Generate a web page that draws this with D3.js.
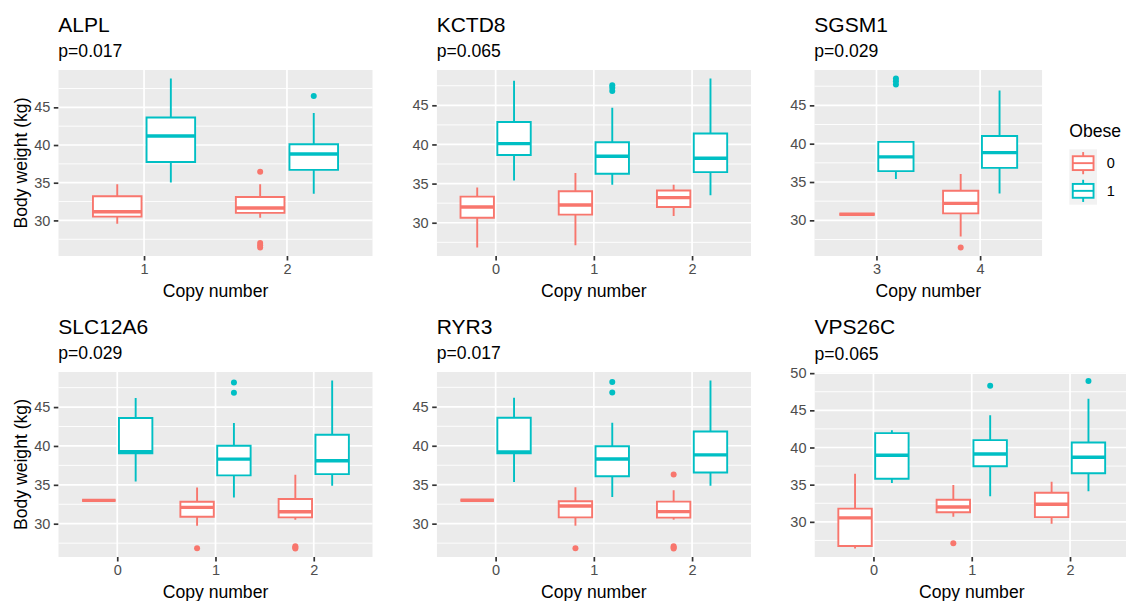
<!DOCTYPE html>
<html>
<head>
<meta charset="utf-8">
<script src="https://cdn.jsdelivr.net/npm/d3@7"></script>
<style>
  html, body { margin: 0; padding: 0; background: #fff; }
  svg { display: block; }
</style>
</head>
<body>
<script>
// ---------------- DATA ----------------
const genes = ["ALPL", "KCTD8", "SGSM1", "SLC12A6", "RYR3", "VPS26C"];
const pValues = ["p=0.017", "p=0.065", "p=0.029", "p=0.029", "p=0.017", "p=0.065"];
const copyNumbers = [["1", "2"], ["0", "1", "2"], ["3", "4"], ["0", "1", "2"], ["0", "1", "2"], ["0", "1", "2"]];
const obeseLevels = ["0", "1"];
const yTickValues = [30, 35, 40, 45, 50];
const yTickLabels = ["30", "35", "40", "45", "50"];

// rows: [copy number, obese, lower whisker, q1, median, q3, upper whisker, outliers]
const alplStats = [
  ["1", "0", 29.55, 30.5, 31.15, 33.2, 34.8, []],
  ["1", "1", 35.03, 37.75, 41.2, 43.66, 48.83, []],
  ["2", "0", 30.35, 31.0, 31.65, 33.1, 34.8, [36.45, 27.0, 26.7, 26.4]],
  ["2", "1", 33.55, 36.7, 38.8, 40.1, 44.25, [46.5]]
];
const kctd8Stats = [
  ["0", "0", 26.83, 30.64, 32.0, 33.34, 34.5, []],
  ["0", "1", 35.4, 38.66, 40.11, 42.86, 48.13, []],
  ["1", "0", 27.13, 31.03, 32.27, 34.03, 36.34, []],
  ["1", "1", 34.84, 36.26, 38.49, 40.29, 44.7, [47.57, 47.23, 46.84]],
  ["2", "0", 30.86, 32.01, 33.21, 34.11, 34.84, []],
  ["2", "1", 33.51, 36.47, 38.23, 41.4, 48.43, []]
];
const sgsm1Stats = [
  ["3", "0", 30.8, 30.8, 30.8, 30.8, 30.8, []],
  ["3", "1", 35.38, 36.42, 38.28, 40.23, 40.23, [48.51, 48.16, 47.73]],
  ["4", "0", 27.88, 30.91, 32.21, 33.86, 36.03, [26.45]],
  ["4", "1", 33.51, 36.85, 38.84, 41.01, 46.95, []]
];
const slc12a6Stats = [
  ["0", "0", 33.0, 33.0, 33.0, 33.0, 33.0, []],
  ["0", "1", 35.44, 39.04, 39.26, 43.59, 46.16, []],
  ["1", "0", 29.74, 30.9, 32.1, 32.83, 34.67, [26.83]],
  ["1", "1", 33.38, 36.21, 38.31, 40.03, 42.94, [48.17, 46.84]],
  ["2", "0", 30.51, 30.81, 31.54, 33.17, 36.3, [27.1, 26.95, 26.8]],
  ["2", "1", 34.88, 36.38, 38.1, 41.44, 48.43, []]
];
const ryr3Stats = [
  ["0", "0", 33.0, 33.0, 33.0, 33.0, 33.0, []],
  ["0", "1", 35.36, 39.04, 39.2, 43.59, 46.16, []],
  ["1", "0", 29.74, 30.81, 32.27, 32.87, 34.67, [26.83]],
  ["1", "1", 33.43, 36.08, 38.31, 39.94, 42.94, [48.17, 46.84]],
  ["2", "0", 30.51, 30.77, 31.54, 32.83, 34.28, [36.3, 27.1, 26.95, 26.8]],
  ["2", "1", 34.88, 36.56, 38.83, 41.83, 48.39, []]
];
const vps26cStats = [
  ["0", "0", 26.4, 26.75, 30.54, 31.78, 36.46, []],
  ["0", "1", 35.21, 35.79, 38.95, 41.93, 42.33, []],
  ["1", "0", 30.67, 31.29, 32.0, 32.98, 34.94, [27.11]],
  ["1", "1", 33.43, 37.48, 39.13, 40.99, 44.33, [48.29]],
  ["2", "0", 29.74, 30.63, 32.36, 33.92, 35.39, []],
  ["2", "1", 34.1, 36.54, 38.68, 40.68, 46.56, [48.96]]
];
const panelStats = [alplStats, kctd8Stats, sgsm1Stats, slc12a6Stats, ryr3Stats, vps26cStats];

// ---------------- LAYOUT / STYLE ----------------
const layout = [
  { x0: 58.3, x1: 372.7, y0: 70, y1: 256, yTitle: true },
  { x0: 436.7, x1: 751, y0: 70, y1: 256, yTitle: false },
  { x0: 814.3, x1: 1042.3, y0: 70, y1: 256, yTitle: false },
  { x0: 58.3, x1: 372.7, y0: 372, y1: 557, yTitle: true },
  { x0: 436.7, x1: 751, y0: 372, y1: 557, yTitle: false },
  { x0: 814.5, x1: 1129, y0: 372.5, y1: 557, yTitle: false }
];
const colors = { "0": "#F8766D", "1": "#00BFC4" };
const FONT = "'Liberation Sans', Arial, Helvetica, sans-serif";
const BOX_W = 1.9, MED_W = 3.4;

const svg = d3.select("body").append("svg")
  .attr("width", 1126).attr("height", 601)
  .style("font-family", FONT);
svg.append("rect").attr("width", 1126).attr("height", 601).attr("fill", "#fff");

function drawBox(g, cx, hw, y, r, color) {
  const [cn, ob, lw, q1, med, q3, uw, outs] = r;
  g.append("line").attr("x1", cx).attr("x2", cx).attr("y1", y(uw)).attr("y2", y(q3))
    .attr("stroke", color).attr("stroke-width", BOX_W);
  g.append("line").attr("x1", cx).attr("x2", cx).attr("y1", y(q1)).attr("y2", y(lw))
    .attr("stroke", color).attr("stroke-width", BOX_W);
  g.append("path")
    .attr("d", `M${cx - hw},${y(q3)}H${cx + hw}V${y(q1)}H${cx - hw}Z`)
    .attr("fill", "#fff").attr("stroke", color).attr("stroke-width", BOX_W);
  g.append("line").attr("x1", cx - hw).attr("x2", cx + hw).attr("y1", y(med)).attr("y2", y(med))
    .attr("stroke", color).attr("stroke-width", MED_W);
  outs.forEach(o => {
    g.append("circle").attr("cx", cx).attr("cy", y(o)).attr("r", 3).attr("fill", color);
  });
}

genes.forEach((gene, i) => {
  const L = layout[i];
  const stats = panelStats[i];
  const cats = copyNumbers[i];
  const x = d3.scalePoint().domain(cats).range([L.x0, L.x1]).padding(0.6);
  const step = x.step();
  const all = stats.flatMap(r => [r[2], r[6], ...r[7]]);
  const lo = d3.min(all), hi = d3.max(all), pad = (hi - lo) * 0.05;
  const y = d3.scaleLinear().domain([lo - pad, hi + pad]).range([L.y1, L.y0]);
  const [dmin, dmax] = y.domain();

  const clipId = "clip" + i;
  svg.append("clipPath").attr("id", clipId).append("rect")
    .attr("x", L.x0).attr("y", L.y0).attr("width", L.x1 - L.x0).attr("height", L.y1 - L.y0);

  const g = svg.append("g");
  const pg = g.append("g").attr("clip-path", `url(#${clipId})`);
  pg.append("rect").attr("x", L.x0).attr("y", L.y0).attr("width", L.x1 - L.x0).attr("height", L.y1 - L.y0)
    .attr("fill", "#EBEBEB");

  const minor = d3.range(22.5, 55, 5).filter(v => v > dmin && v < dmax);
  pg.selectAll(".minor").data(minor).join("line")
    .attr("x1", L.x0).attr("x2", L.x1).attr("y1", d => y(d)).attr("y2", d => y(d))
    .attr("stroke", "#fff").attr("stroke-width", 0.9);
  const ticks = yTickValues.filter(v => v >= dmin && v <= dmax);
  pg.selectAll(".major").data(ticks).join("line")
    .attr("x1", L.x0).attr("x2", L.x1).attr("y1", d => y(d)).attr("y2", d => y(d))
    .attr("stroke", "#fff").attr("stroke-width", 1.7);
  pg.selectAll(".vmajor").data(cats).join("line")
    .attr("x1", d => x(d)).attr("x2", d => x(d)).attr("y1", L.y0).attr("y2", L.y1)
    .attr("stroke", "#fff").attr("stroke-width", 1.7);

  const dodge = 0.1875 * step, hw = 0.17 * step;
  stats.forEach(r => {
    const cx = x(r[0]) + (r[1] === "0" ? -dodge : dodge);
    drawBox(pg, cx, hw, y, r, colors[r[1]]);
  });

  const yAxis = d3.axisLeft(y).tickValues(ticks)
    .tickFormat(v => yTickLabels[yTickValues.indexOf(v)])
    .tickSize(4.5).tickPadding(3.5);
  const ya = g.append("g").attr("transform", `translate(${L.x0},0)`).call(yAxis);
  ya.select(".domain").remove();
  ya.selectAll(".tick line").attr("stroke", "#333").attr("stroke-width", 1.7);
  ya.selectAll(".tick text").attr("fill", "#4D4D4D").style("font-size", "14.5px").style("font-family", FONT);

  const xAxis = d3.axisBottom(x).tickSize(4.5).tickPadding(3);
  const xa = g.append("g").attr("transform", `translate(0,${L.y1})`).call(xAxis);
  xa.select(".domain").remove();
  xa.selectAll(".tick line").attr("stroke", "#333").attr("stroke-width", 1.7);
  xa.selectAll(".tick text").attr("fill", "#4D4D4D").style("font-size", "14.5px").style("font-family", FONT);

  g.append("text").attr("x", L.x0).attr("y", L.y0 - 38.3).text(gene)
    .attr("fill", "#000").style("font-size", "21px");
  g.append("text").attr("x", L.x0).attr("y", L.y0 - 12.7).text(pValues[i])
    .attr("fill", "#000").style("font-size", "17.6px");
  g.append("text").attr("x", (L.x0 + L.x1) / 2).attr("y", L.y1 + 40.5)
    .attr("text-anchor", "middle").text("Copy number")
    .attr("fill", "#000").style("font-size", "17.6px");
  if (L.yTitle) {
    g.append("text")
      .attr("transform", `translate(26.5,${(L.y0 + L.y1) / 2}) rotate(-90)`)
      .attr("text-anchor", "middle").text("Body weight (kg)")
      .attr("fill", "#000").style("font-size", "17.6px");
  }
});

// legend
const lg = svg.append("g");
lg.append("text").attr("x", 1069.3).attr("y", 137.3).text("Obese")
  .attr("fill", "#000").style("font-size", "17.6px");
const keySize = 27.7, keyX = 1069.3, keyY = 149.3;
obeseLevels.forEach((lev, k) => {
  const ky = keyY + k * keySize;
  lg.append("rect").attr("x", keyX).attr("y", ky).attr("width", keySize).attr("height", keySize)
    .attr("fill", "#F2F2F2");
  const ks = d3.scaleLinear().domain([0, 1]).range([ky + keySize, ky]);
  const cx = keyX + keySize / 2;
  const color = colors[lev];
  lg.append("line").attr("x1", cx).attr("x2", cx).attr("y1", ks(0.9)).attr("y2", ks(0.75))
    .attr("stroke", color).attr("stroke-width", BOX_W);
  lg.append("line").attr("x1", cx).attr("x2", cx).attr("y1", ks(0.25)).attr("y2", ks(0.1))
    .attr("stroke", color).attr("stroke-width", BOX_W);
  lg.append("rect").attr("x", keyX + keySize * 0.125).attr("y", ks(0.75))
    .attr("width", keySize * 0.75).attr("height", ks(0.25) - ks(0.75))
    .attr("fill", "#fff").attr("stroke", color).attr("stroke-width", BOX_W);
  lg.append("line").attr("x1", keyX + keySize * 0.125).attr("x2", keyX + keySize * 0.875)
    .attr("y1", ks(0.5)).attr("y2", ks(0.5)).attr("stroke", color).attr("stroke-width", BOX_W);
  lg.append("text").attr("x", 1106.7).attr("y", ky + keySize / 2 + 5).text(lev)
    .attr("fill", "#000").style("font-size", "14.5px");
});
</script>
</body>
</html>
